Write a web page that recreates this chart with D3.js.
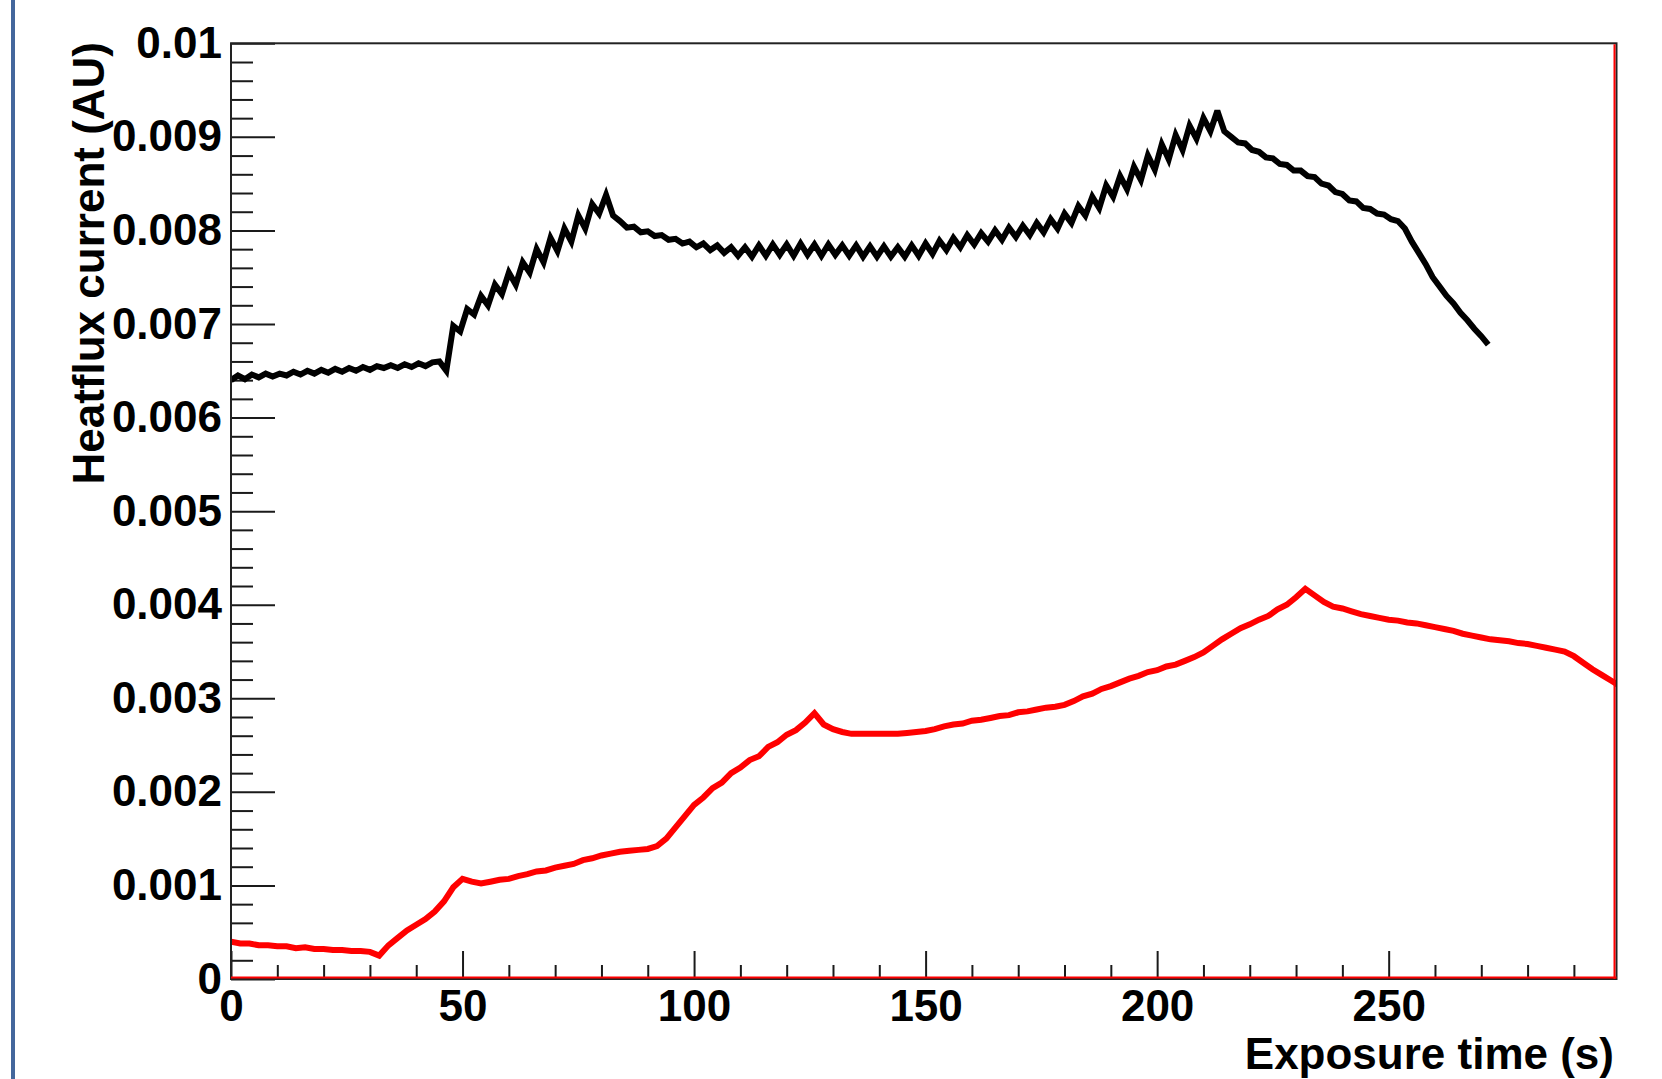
<!DOCTYPE html>
<head>
  <meta charset="utf-8">
  <script src="https://cdn.jsdelivr.net/npm/d3@7"></script>
  <style>
    body { margin: 0; background: #fff; }
    text { font-family: "Liberation Sans", Arial, Helvetica, sans-serif; font-weight: bold; fill: #000; }
  </style>
</head>
<body>
  <svg width="1662" height="1079"></svg>
  <script>
    // heatflux current, units of 1e-3 AU
    // black run sampled every 1.5 s, red run every 2 s
    const blackStep = 1.5;
    const blackValues = [
      6.40, 6.45, 6.41, 6.46, 6.43, 6.47, 6.44, 6.47, 6.45, 6.49, 6.46, 6.50, 6.47, 6.51, 6.48, 6.52,
      6.49, 6.53, 6.50, 6.54, 6.51, 6.55, 6.53, 6.56, 6.53, 6.57, 6.54, 6.58, 6.55, 6.59, 6.60,
      6.50, 6.98, 6.92, 7.16, 7.10, 7.30, 7.20, 7.42, 7.32, 7.55, 7.42, 7.66, 7.55, 7.80, 7.66, 7.92,
      7.78, 8.02, 7.88, 8.16, 8.02, 8.28, 8.18, 8.38,
      8.16, 8.10, 8.03, 8.04, 7.98, 7.99, 7.94, 7.95, 7.90, 7.91, 7.86, 7.88, 7.82, 7.86, 7.79, 7.84,
      7.76, 7.82, 7.73,
      7.82, 7.72, 7.84, 7.73, 7.85, 7.74, 7.85, 7.73, 7.86, 7.74, 7.85, 7.73, 7.85, 7.74, 7.84, 7.73,
      7.84, 7.72, 7.83, 7.72, 7.83, 7.72, 7.82, 7.72, 7.84, 7.73,
      7.86, 7.75, 7.89, 7.79, 7.92, 7.82, 7.95, 7.85, 7.97, 7.88, 8.00, 7.90, 8.03, 7.93, 8.05, 7.95,
      8.08, 7.98, 8.12, 8.02, 8.18, 8.08, 8.26, 8.16,
      8.36, 8.24, 8.48, 8.36, 8.58, 8.44, 8.68, 8.54, 8.80, 8.65, 8.92, 8.76, 9.02, 8.86, 9.12, 8.98,
      9.20, 9.06, 9.28,
      9.06, 9.00, 8.94, 8.93, 8.86, 8.84, 8.78, 8.77, 8.71, 8.70, 8.64, 8.64, 8.58, 8.57, 8.50, 8.48,
      8.41, 8.39, 8.32, 8.31, 8.24, 8.23, 8.18, 8.17, 8.12, 8.10, 8.02,
      7.88, 7.76, 7.64, 7.50, 7.40, 7.30, 7.22, 7.12, 7.04, 6.95, 6.87, 6.78
    ];
    const redStep = 2;
    const redValues = [
      0.40, 0.38, 0.38, 0.36, 0.36, 0.35, 0.35, 0.33, 0.34, 0.32, 0.32, 0.31, 0.31, 0.30, 0.30, 0.29, 0.25,
      0.36, 0.44, 0.52, 0.58, 0.64, 0.72, 0.83, 0.98, 1.07, 1.04, 1.02, 1.04, 1.06, 1.07, 1.10, 1.12,
      1.15, 1.16, 1.19, 1.21, 1.23, 1.27, 1.29, 1.32, 1.34, 1.36, 1.37, 1.38, 1.39, 1.42, 1.50, 1.62,
      1.74, 1.86, 1.94, 2.04, 2.10, 2.20, 2.26, 2.34, 2.38, 2.48, 2.53, 2.61, 2.66, 2.74, 2.84, 2.72,
      2.67, 2.64, 2.62, 2.62, 2.62, 2.62, 2.62, 2.62, 2.63, 2.64, 2.65, 2.67, 2.70, 2.72, 2.73, 2.76,
      2.77, 2.79, 2.81, 2.82, 2.85, 2.86, 2.88, 2.90, 2.91, 2.93, 2.97, 3.02, 3.05, 3.10, 3.13, 3.17,
      3.21, 3.24, 3.28, 3.30, 3.34, 3.36, 3.40, 3.44, 3.49, 3.56, 3.63, 3.69, 3.75, 3.79, 3.84, 3.88,
      3.95, 4.00, 4.08, 4.17, 4.10, 4.03, 3.98, 3.96, 3.93, 3.90, 3.88, 3.86, 3.84, 3.83, 3.81, 3.80,
      3.78, 3.76, 3.74, 3.72, 3.69, 3.67, 3.65, 3.63, 3.62, 3.61, 3.59, 3.58, 3.56, 3.54, 3.52, 3.50,
      3.45, 3.38, 3.31, 3.25, 3.19, 3.13
    ];

    const xMajorTicks = [0, 50, 100, 150, 200, 250];
    const xMinorTicks = [10, 20, 30, 40, 60, 70, 80, 90, 110, 120, 130, 140, 160, 170, 180, 190,
                         210, 220, 230, 240, 260, 270, 280, 290];
    const xTickLabels = ['0', '50', '100', '150', '200', '250'];
    const yMajorTicks = [0, 0.001, 0.002, 0.003, 0.004, 0.005, 0.006, 0.007, 0.008, 0.009, 0.01];
    const yTickLabels = ['0', '0.001', '0.002', '0.003', '0.004', '0.005', '0.006', '0.007', '0.008', '0.009', '0.01'];
    const xTitle = 'Exposure time (s)';
    const yTitle = 'Heatflux current (AU)';

    const svg = d3.select('svg');
    const plotL = 231, plotR = 1616.5, plotT = 43.3, plotB = 979;

    const x = d3.scaleLinear().domain([0, 299.2]).range([plotL, plotR]);
    const y = d3.scaleLinear().domain([0, 0.01]).range([plotB, plotT]);

    // blue strip at the left edge
    svg.append('rect').attr('x', 11).attr('y', 0).attr('width', 4).attr('height', 1079)
      .attr('fill', '#44679c');

    // y minor every 0.0002
    const yMinorTicks = d3.range(0, 50).filter(i => i % 5 !== 0).map(i => i * 0.0002);

    const yMinor = svg.append('g').attr('transform', `translate(${plotL},0)`)
      .call(d3.axisLeft(y).tickValues(yMinorTicks).tickSize(-22).tickFormat(''));
    const yMajor = svg.append('g').attr('transform', `translate(${plotL},0)`)
      .call(d3.axisLeft(y).tickValues(yMajorTicks).tickSize(-44).tickPadding(9)
        .tickFormat((d, i) => yTickLabels[i]));
    const xMinor = svg.append('g').attr('transform', `translate(0,${plotB})`)
      .call(d3.axisBottom(x).tickValues(xMinorTicks).tickSize(-14).tickFormat(''));
    const xMajor = svg.append('g').attr('transform', `translate(0,${plotB})`)
      .call(d3.axisBottom(x).tickValues(xMajorTicks).tickSize(-28).tickPadding(10)
        .tickFormat((d, i) => xTickLabels[i]));

    [yMinor, yMajor, xMinor, xMajor].forEach(g => {
      g.select('.domain').remove();
      g.selectAll('line').attr('stroke', '#1a1a1a').attr('stroke-width', 2);
    });
    yMajor.selectAll('text').attr('font-size', 44).attr('fill', '#000');
    xMajor.selectAll('text').attr('font-size', 44).attr('fill', '#000').attr('dy', '0.72em');
    svg.selectAll('.tick text').style('font-family', '"Liberation Sans", Arial, sans-serif')
      .style('font-weight', 'bold');

    // clip to the frame
    svg.append('clipPath').attr('id', 'plot')
      .append('rect').attr('x', plotL).attr('y', plotT).attr('width', plotR - plotL).attr('height', plotB - plotT);

    const line = d3.line()
      .x(d => x(d[0]))
      .y(d => y(d[1] * 1e-3));

    const blackPts = blackValues.map((v, i) => [i * blackStep, v]);
    const redPts = redValues.map((v, i) => [i * redStep, v]);

    svg.append('path').datum(blackPts)
      .attr('clip-path', 'url(#plot)')
      .attr('fill', 'none').attr('stroke', '#000').attr('stroke-width', 6)
      .attr('stroke-linejoin', 'miter').attr('stroke-miterlimit', 3)
      .attr('d', line);

    svg.append('path').datum(redPts)
      .attr('clip-path', 'url(#plot)')
      .attr('fill', 'none').attr('stroke', '#ff0000').attr('stroke-width', 6)
      .attr('stroke-linejoin', 'miter').attr('stroke-miterlimit', 3)
      .attr('d', line);

    // frame
    svg.append('rect').attr('x', plotL).attr('y', plotT).attr('width', plotR - plotL).attr('height', plotB - plotT)
      .attr('fill', 'none').attr('stroke', '#222').attr('stroke-width', 2);
    // red axes of the second graph
    svg.append('line').attr('x1', plotL).attr('x2', plotR).attr('y1', plotB - 1.5).attr('y2', plotB - 1.5)
      .attr('stroke', '#ff0000').attr('stroke-width', 2);
    svg.append('line').attr('x1', plotR - 2).attr('x2', plotR - 2).attr('y1', plotT + 1).attr('y2', plotB)
      .attr('stroke', '#ff0000').attr('stroke-width', 2);

    // titles
    svg.append('text')
      .attr('x', 1614).attr('y', 1069)
      .attr('text-anchor', 'end').attr('font-size', 44)
      .text(xTitle);
    svg.append('text')
      .attr('transform', 'translate(104,42) rotate(-90)')
      .attr('text-anchor', 'end').attr('font-size', 44)
      .text(yTitle);
  </script>
</body>
